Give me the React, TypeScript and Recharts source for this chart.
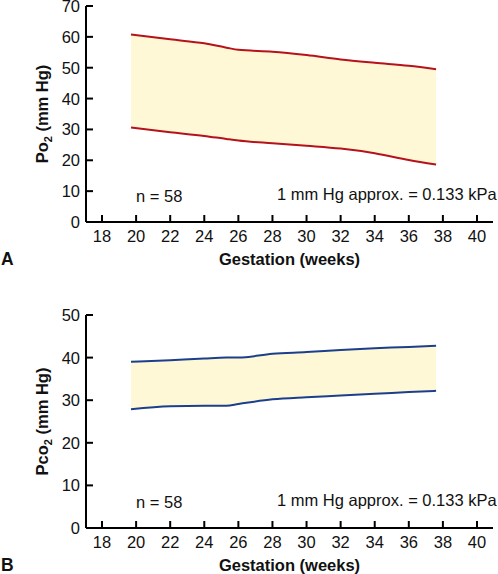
import React from 'react';
import { ComposedChart, Area, Line, XAxis, YAxis } from 'recharts';

// gestational age (weeks) at which the band outline was read
const weeks = [19.7, 22, 24, 25.3, 26, 28, 30, 32, 34, 36, 37.6];

// Po2 range (mm Hg)
const po2Upper = [60.8, 59.2, 57.9, 56.5, 55.8, 55.2, 54.1, 52.7, 51.6, 50.6, 49.5];
const po2Lower = [30.6, 29.1, 27.9, 26.9, 26.4, 25.5, 24.7, 23.8, 22.3, 20.1, 18.6];

// Pco2 range (mm Hg)
const pco2Upper = [39.0, 39.4, 39.8, 40.0, 40.0, 40.9, 41.3, 41.8, 42.2, 42.5, 42.8];
const pco2Lower = [27.9, 28.6, 28.7, 28.7, 29.1, 30.2, 30.7, 31.1, 31.5, 31.9, 32.2];

const xTicks = [18, 20, 22, 24, 26, 28, 30, 32, 34, 36, 38, 40];
const po2Ticks = [0, 10, 20, 30, 40, 50, 60, 70];
const pco2Ticks = [0, 10, 20, 30, 40, 50];

const FONT = "'Liberation Sans', Arial, Helvetica, sans-serif";
const FS = 16.5;
const FILL = '#FFF8D6';

const buildRows = (lo: number[], hi: number[]) =>
  weeks.map((w, i) => ({ week: w, lo: lo[i], hi: hi[i], band: [lo[i], hi[i]] }));

const XTick = (props: any) => {
  const { x, y, payload } = props;
  return (
    <g>
      <line x1={x} x2={x} y1={y - 7} y2={y} stroke="#000" strokeWidth={2} />
      <text x={x} y={y + 20} textAnchor="middle" fontSize={FS} fontFamily={FONT} fill="#111">
        {payload.value}
      </text>
    </g>
  );
};

const YTick = (props: any) => {
  const { x, y, payload } = props;
  return (
    <g>
      <line x1={x} x2={x + 7} y1={y} y2={y} stroke="#000" strokeWidth={2} />
      <text x={x - 6} y={y + 6} textAnchor="end" fontSize={FS} fontFamily={FONT} fill="#111">
        {payload.value}
      </text>
    </g>
  );
};

interface PanelProps {
  top: number;
  height: number;
  marginTop: number;
  xAxisHeight: number;
  yMax: number;
  yTicks: number[];
  lo: number[];
  hi: number[];
  color: string;
  letter: string;
  gas: string;
}

const Panel: React.FC<PanelProps> = ({ top, height, marginTop, xAxisHeight, yMax, yTicks, lo, hi, color, letter, gas }) => {
  const data = buildRows(lo, hi);
  const axisY = height - xAxisHeight;
  const midY = (marginTop + axisY) / 2;
  return (
    <div style={{ position: 'absolute', left: 0, top }}>
      <ComposedChart width={498} height={height} data={data} margin={{ top: marginTop, right: 5, bottom: 0, left: 0 }}>
        <XAxis
          dataKey="week"
          type="number"
          domain={[17.06, 40.94]}
          ticks={xTicks}
          interval={0}
          tickLine={false}
          tickSize={0}
          tickMargin={0}
          tick={<XTick />}
          axisLine={{ stroke: '#000', strokeWidth: 2 }}
          height={xAxisHeight}
        />
        <YAxis
          type="number"
          domain={[0, yMax]}
          ticks={yTicks}
          interval={0}
          tickLine={false}
          tickSize={0}
          tickMargin={0}
          tick={<YTick />}
          axisLine={{ stroke: '#000', strokeWidth: 2 }}
          width={86}
        />
        <Area type="monotone" dataKey="band" stroke="none" fill={FILL} fillOpacity={1} isAnimationActive={false} />
        <Line type="monotone" dataKey="hi" stroke={color} strokeWidth={2} dot={false} isAnimationActive={false} />
        <Line type="monotone" dataKey="lo" stroke={color} strokeWidth={2} dot={false} isAnimationActive={false} />
        <text x={136} y={axisY - 20} fontSize={FS} fontFamily={FONT} fill="#111">n = 58</text>
        <text x={277} y={axisY - 22} fontSize={FS} fontFamily={FONT} fill="#111">1 mm Hg approx. = 0.133 kPa</text>
        <text x={289.5} y={axisY + 43} textAnchor="middle" fontSize={FS} fontWeight="bold" fontFamily={FONT} fill="#111">
          Gestation (weeks)
        </text>
        <text x={1} y={axisY + 43} fontSize={17.5} fontWeight="bold" fontFamily={FONT} fill="#111">{letter}</text>
        <text
          x={48}
          y={midY}
          transform={`rotate(-90 48 ${midY})`}
          textAnchor="middle"
          fontSize={FS}
          fontWeight="bold"
          fontFamily={FONT}
          fill="#111"
        >
          {gas}
          <tspan fontSize={11} dy={4}>2</tspan>
          <tspan dy={-4}> (mm Hg)</tspan>
        </text>
      </ComposedChart>
    </div>
  );
}

export default function App() {
  return (
    <div style={{ position: 'absolute', left: 0, top: 0, width: 498, height: 574, background: '#fff' }}>
      <Panel top={0} height={290} marginTop={6} xAxisHeight={68} yMax={70} yTicks={po2Ticks} lo={po2Lower} hi={po2Upper} color="#B5121B" letter="A" gas="Po" />
      <Panel top={290} height={284} marginTop={25} xAxisHeight={46} yMax={50} yTicks={pco2Ticks} lo={pco2Lower} hi={pco2Upper} color="#1C3F8C" letter="B" gas="Pco" />
    </div>
  );
}
